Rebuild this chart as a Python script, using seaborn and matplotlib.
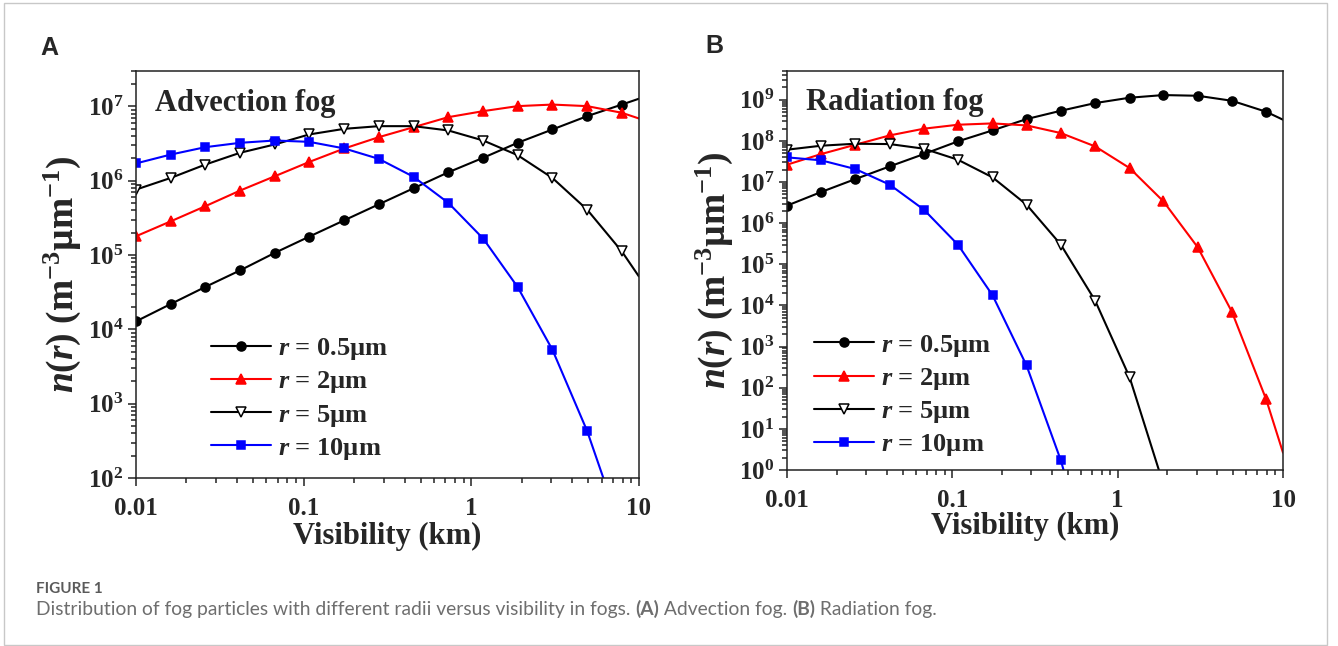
import matplotlib
matplotlib.use("Agg")
import matplotlib.pyplot as plt
import seaborn as sns
from matplotlib.lines import Line2D
from matplotlib.patches import Rectangle
from matplotlib.ticker import FixedLocator, FixedFormatter, NullFormatter, LogLocator

# Visibility grid (km); the marked samples, the final entry is the line end at 10 km
visibility = [0.01, 0.0161, 0.0259, 0.0418, 0.0673, 0.108, 0.175, 0.281,
              0.453, 0.730, 1.18, 1.89, 3.05, 4.91, 7.91, 10.0]

# (A) Advection fog, n(r) in m^-3 um^-1
adv_r05 = [1.28e4, 2.19e4, 3.72e4, 6.22e4, 1.07e5, 1.77e5, 2.94e5, 4.82e5,
           7.93e5, 1.30e6, 2.04e6, 3.24e6, 4.90e6, 7.40e6, 1.06e7, 1.27e7]
adv_r2 = [1.79e5, 2.84e5, 4.54e5, 7.38e5, 1.15e6, 1.79e6, 2.72e6, 3.86e6,
          5.26e6, 7.18e6, 8.65e6, 1.01e7, 1.06e7, 1.01e7, 8.22e6, 6.89e6]
adv_r5 = [7.60e5, 1.09e6, 1.65e6, 2.38e6, 3.08e6, 4.20e6, 5.00e6, 5.43e6,
          5.43e6, 4.75e6, 3.48e6, 2.21e6, 1.09e6, 4.09e5, 1.12e5, 5.16e4]
adv_r10 = [1.71e6, 2.25e6, 2.83e6, 3.24e6, 3.48e6, 3.34e6, 2.72e6, 1.97e6,
           1.13e6, 5.04e5, 1.66e5, 3.72e4, 5.31e3, 430, 19]

# (B) Radiation fog, n(r) in m^-3 um^-1
rad_r05 = [2.67e6, 5.73e6, 1.18e7, 2.40e7, 4.79e7, 9.73e7, 1.80e8, 3.39e8,
           5.40e8, 8.30e8, 1.12e9, 1.30e9, 1.25e9, 9.44e8, 5.11e8, 3.27e8]
rad_r2 = [2.64e7, 4.79e7, 8.07e7, 1.36e8, 1.98e8, 2.47e8, 2.66e8, 2.38e8,
          1.55e8, 7.36e7, 2.19e7, 3.40e6, 2.59e5, 6.98e3, 52.0, 2.64]
rad_r5 = [6.11e7, 7.64e7, 8.53e7, 8.37e7, 6.46e7, 3.49e7, 1.30e7, 2.82e6,
          3.01e5, 1.32e4, 181, 0.45]
rad_r10 = [3.98e7, 3.37e7, 2.07e7, 8.63e6, 2.13e6, 3.01e5, 1.77e4, 348,
           1.72, 0.002]

series_labels = [r"$\mathit{r}$ = 0.5µm", r"$\mathit{r}$ = 2µm",
                 r"$\mathit{r}$ = 5µm", r"$\mathit{r}$ = 10µm"]
panel_titles = ["Advection fog", "Radiation fog"]
panel_letters = ["A", "B"]

x_ticks = [0.01, 0.1, 1, 10]
x_ticklabels = ["0.01", "0.1", "1", "10"]
adv_yticks = [1e2, 1e3, 1e4, 1e5, 1e6, 1e7]
adv_yticklabels = [r"$10^{2}$", r"$10^{3}$", r"$10^{4}$", r"$10^{5}$",
                   r"$10^{6}$", r"$10^{7}$"]
rad_yticks = [1e0, 1e1, 1e2, 1e3, 1e4, 1e5, 1e6, 1e7, 1e8, 1e9]
rad_yticklabels = [r"$10^{%d}$" % e for e in range(10)]

x_label = "Visibility (km)"
y_label = r"$\mathit{n}(\mathit{r})$ $(\mathrm{m}^{-3}\mathrm{µm}^{-1})$"

caption_head = "FIGURE 1"
caption_parts = [
    ("Distribution of fog particles with different radii versus visibility in fogs. ", "normal"),
    ("(A)", "bold"), (" Advection fog. ", "normal"),
    ("(B)", "bold"), (" Radiation fog.", "normal"),
]

sns.set_style("ticks")
plt.rcParams.update({
    "font.family": ["Liberation Serif", "DejaVu Serif"],
    "font.weight": "bold",
    "mathtext.fontset": "custom",
    "mathtext.rm": "Liberation Serif:bold",
    "mathtext.it": "Liberation Serif:italic:bold",
    "mathtext.bf": "Liberation Serif:bold",
    "mathtext.default": "rm",
    "axes.edgecolor": "#222222",
    "axes.linewidth": 1.1,
})

styles = [
    dict(color="#000000", marker="o", mfc="#000000", ms=6.5),
    dict(color="#ff0000", marker="^", mfc="#ff0000", ms=7),
    dict(color="#000000", marker="v", mfc="#ffffff", ms=7),
    dict(color="#0000ff", marker="s", mfc="#0000ff", ms=5.8),
]

fig = plt.figure(figsize=(13.38, 6.46), dpi=100)
axA = fig.add_axes([0.1016, 0.2601, 0.3759, 0.6300])
axB = fig.add_axes([0.5882, 0.2724, 0.3707, 0.6177])


def draw_series(ax, values, st):
    n = len(values)
    sns.lineplot(x=visibility[:n], y=values, ax=ax, color=st["color"],
                 linewidth=1.5, marker=st["marker"], markersize=st["ms"],
                 markerfacecolor=st["mfc"], markeredgecolor=st["color"],
                 markeredgewidth=1.1, markevery=list(range(min(n, 15))),
                 errorbar=None, legend=False)


def style_axis(ax, yticks, yticklabels, ylim, title, leg_anchor):
    ax.set_xscale("log")
    ax.set_yscale("log")
    ax.set_xlim(0.01, 10)
    ax.set_ylim(*ylim)
    ax.xaxis.set_major_locator(FixedLocator(x_ticks))
    ax.xaxis.set_major_formatter(FixedFormatter(x_ticklabels))
    ax.xaxis.set_minor_locator(LogLocator(base=10, subs=range(2, 10), numticks=50))
    ax.xaxis.set_minor_formatter(NullFormatter())
    ax.yaxis.set_major_locator(FixedLocator(yticks))
    ax.yaxis.set_major_formatter(FixedFormatter(yticklabels))
    ax.yaxis.set_minor_locator(LogLocator(base=10, subs=range(2, 10), numticks=50))
    ax.yaxis.set_minor_formatter(NullFormatter())
    ax.tick_params(which="both", direction="out", top=False, right=False,
                   color="#222222", width=1.1)
    ax.tick_params(which="major", length=6, labelsize=18)
    ax.tick_params(axis="x", which="major", pad=8)
    ax.tick_params(axis="y", which="major", pad=3)
    ax.tick_params(which="minor", length=3.5)
    for sp in ax.spines.values():
        sp.set_visible(True)
    ax.set_xlabel(x_label, fontsize=22, fontweight="bold")
    ax.set_ylabel(y_label, fontsize=27)
    ax.text(0.038, 0.92, title, transform=ax.transAxes, fontsize=22,
            fontweight="bold", va="center", ha="left")
    handles = [Line2D([], [], color=st["color"], lw=1.5, marker=st["marker"],
                      ms=st["ms"], mfc=st["mfc"], mec=st["color"], mew=1.1)
               for st in styles]
    ax.legend(handles, series_labels, loc="lower left", bbox_to_anchor=leg_anchor,
              frameon=False, fontsize=19, handlelength=2.27, handletextpad=0.25,
              labelspacing=0.27, borderaxespad=0, borderpad=0)


for vals, st in zip([adv_r05, adv_r2, adv_r5, adv_r10], styles):
    draw_series(axA, vals, st)
for vals, st in zip([rad_r05, rad_r2, rad_r5, rad_r10], styles):
    draw_series(axB, vals, st)

style_axis(axA, adv_yticks, adv_yticklabels, (1e2, 3e7), panel_titles[0], (0.15, 0.04))
style_axis(axB, rad_yticks, rad_yticklabels, (1e0, 5e9), panel_titles[1], (0.055, 0.03))

axA.xaxis.set_label_coords(0.5, -0.108)
axA.yaxis.set_label_coords(-0.105, 0.5)
axB.xaxis.set_label_coords(0.48, -0.105)
axB.yaxis.set_label_coords(-0.104, 0.5)

# panel letters
fig.text(40 / 1338, 1 - 48 / 646, panel_letters[0], family="Liberation Sans",
         fontweight="bold", fontsize=18, va="center", ha="left")
fig.text(705 / 1338, 1 - 46 / 646, panel_letters[1], family="Liberation Sans",
         fontweight="bold", fontsize=18, va="center", ha="left")

# light frame around the figure
fig.patches.append(Rectangle((4 / 1338, 1 / 646), 1323 / 1338, 642 / 646,
                             transform=fig.transFigure, fill=False,
                             edgecolor="#c8c8c8", linewidth=1.0))

# caption
fig.text(36 / 1338, 1 - 593 / 646, caption_head, family=["Lato", "DejaVu Sans"],
         fontweight="bold", fontsize=11, color="#5a5a5a", va="baseline", ha="left")
fig.canvas.draw()
renderer = fig.canvas.get_renderer()
x_px = 36.0
for txt, wt in caption_parts:
    t = fig.text(x_px / 1338, 1 - 615 / 646, txt, family=["Lato", "DejaVu Sans"],
                 fontweight=wt, fontsize=13.9, color="#6e6e6e",
                 va="baseline", ha="left")
    bb = t.get_window_extent(renderer=renderer)
    x_px += bb.width

fig.savefig("out.png", dpi=100)
